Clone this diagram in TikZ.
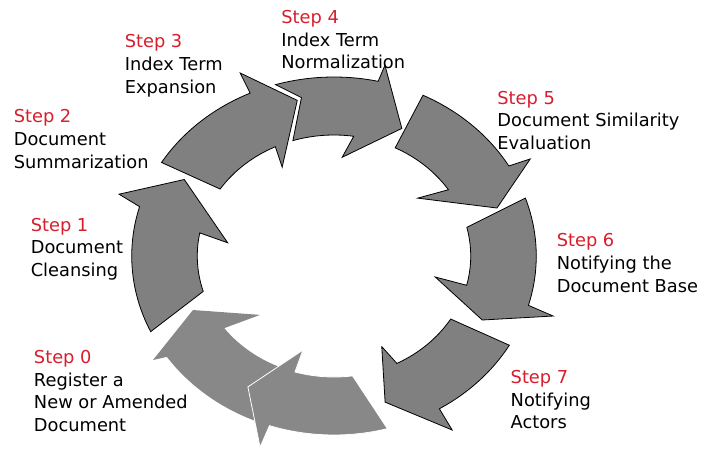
\documentclass[tikz,border=0pt]{standalone}
\usepackage{fontspec}
\setmainfont{DejaVu Sans}
\usepackage{tikz}
\definecolor{stepred}{RGB}{214,30,44}
\definecolor{ringgray}{RGB}{128,128,128}
\definecolor{ringlight}{RGB}{136,136,136}

\begin{document}
\begin{tikzpicture}[x=1pt, y=1pt, line width=0.8pt,
    steptext/.style={anchor=base west, align=left, inner sep=0pt,
      font=\fontsize{17.8}{22.7}\selectfont},
    darkarrow/.style={fill=ringgray, draw=black},
    lightarrow/.style={fill=ringlight, draw=white}]
    \useasboundingbox (0, 0) rectangle (702, -450);

    \begin{scope}[shift={(334, -256)}, xscale=1.13]
    % draw light arrows at the bottom
    \filldraw[lightarrow, draw=none]
      (-111 : 179) arc [radius = 179, start angle = -111, delta angle = -34.7]
        -- (-147 : 191) -- (-156.6 : 136) -- (-138 : 88)
        -- (-143.4 : 121) arc [radius = 121, start angle = -143.4, delta angle = 33.4] -- cycle;
    \filldraw[lightarrow]
      (-74.7 : 179) arc [radius = 179, start angle = -74.7, delta angle = -33.9]
        -- (-108.9 : 202) -- (-120.2 : 151.5) -- (-106.3 : 98)
        -- (-106.6 : 121) arc [radius = 121, start angle = -106.6, delta angle = 24.4] -- cycle;

    % draw dark arrows
    \filldraw[darkarrow]
      (205 : 179) arc [radius = 179, start angle = 205, delta angle = -41]
        -- (162 : 200) -- (150 : 153) -- (172 : 95)
        -- (169 : 121) arc [radius = 121, start angle = 169, delta angle = 28] -- cycle;
    \filldraw[darkarrow]
      (148.5 : 179) arc [radius = 179, start angle = 148.5, delta angle = -34]
        -- (114.4 : 201) -- (101.8 : 159) -- (117.3 : 100)
        -- (115.4 : 121) arc [radius = 121, start angle = 115.4, delta angle = 31] -- cycle;
    \filldraw[darkarrow]
      (106.8 : 179) arc [radius = 179, start angle = 106.8, delta angle = -29.4]
        -- (76.7 : 196) -- (64.8 : 141) -- (85.8 : 99)
        -- (81.7 : 121) arc [radius = 121, start angle = 81.7, delta angle = 25.8]
        -- (100.3 : 161) -- cycle;
    \filldraw[darkarrow]
      (63.9 : 179) arc [radius = 179, start angle = 63.9, delta angle = -33.7]
        -- (29.2 : 199) -- (18.4 : 152) -- (38 : 94)
        -- (33.2 : 121) arc [radius = 121, start angle = 33.2, delta angle = 30.2] -- cycle;
    \filldraw[darkarrow]
      (18.9 : 179) arc [radius = 179, start angle = 18.9, delta angle = -34.9]
        -- (-17.2 : 203) -- (-26 : 146) -- (-13.2 : 92)
        -- (-14 : 121) arc [radius = 121, start angle = -14, delta angle = 27.7] -- cycle;
    \filldraw[darkarrow]
      (-29.9 : 179) arc [radius = 179, start angle = -29.9, delta angle = -28.7]
        -- (-59 : 203) -- (-72.8 : 153) -- (-65 : 100)
        -- (-62.6 : 121) arc [radius = 121, start angle = -62.6, delta angle = 31.2] -- cycle;
    \end{scope}

    % draw step labels (placed at the baseline of their last line)
    \node[steptext] (step0) at (33.6, -431.4) {\textcolor{stepred}{Step 0}\\Register a\\New or Amended\\Document};
    \node[steptext] (step1) at (30.4, -276.4) {\textcolor{stepred}{Step 1}\\Document\\Cleansing};
    \node[steptext] (step2) at (13.4, -168.1) {\textcolor{stepred}{Step 2}\\Document\\Summarization};
    \node[steptext] (step3) at (124.4, -93.1) {\textcolor{stepred}{Step 3}\\Index Term\\Expansion};
    \node[steptext] (step4) at (281, -68.7) {\textcolor{stepred}{Step 4}\\Index Term\\Normalization};
    \node[steptext] (step5) at (497, -149.4) {\textcolor{stepred}{Step 5}\\Document Similarity\\Evaluation};
    \node[steptext] (step6) at (556.4, -292.1) {\textcolor{stepred}{Step 6}\\Notifying the\\Document Base};
    \node[steptext] (step7) at (510.3, -428.7) {\textcolor{stepred}{Step 7}\\Notifying\\Actors};

\end{tikzpicture}
\end{document}
